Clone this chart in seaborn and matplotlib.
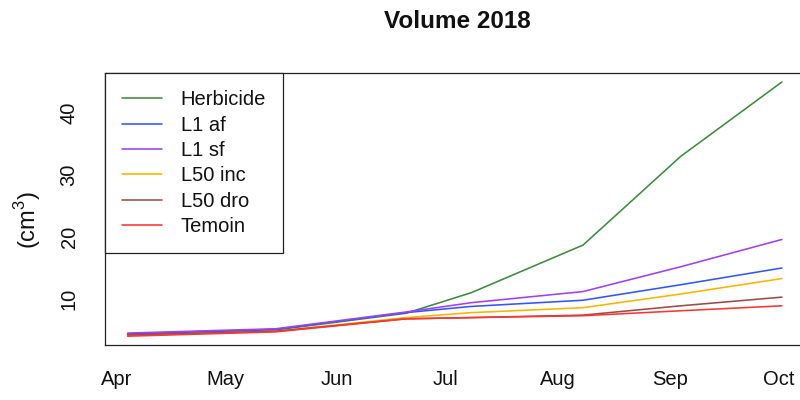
import matplotlib
matplotlib.use("Agg")
import matplotlib.pyplot as plt
import pandas as pd
import seaborn as sns
from datetime import datetime

# Measurement dates and mean volumes (cm3) per treatment
dates = ["2018-04-04", "2018-05-15", "2018-06-20", "2018-07-08",
         "2018-08-08", "2018-09-04", "2018-10-02"]
herbicide = [4.3, 5.0, 7.7, 11.0, 18.7, 33.0, 45.0]
l1_af = [4.4, 5.1, 7.8, 8.8, 9.8, 12.3, 15.0]
l1_sf = [4.5, 5.2, 7.9, 9.4, 11.2, 15.2, 19.6]
l50_inc = [4.1, 4.8, 7.0, 7.8, 8.6, 10.8, 13.3]
l50_dro = [4.2, 4.8, 6.8, 7.0, 7.4, 8.9, 10.3]
temoin = [4.0, 4.7, 6.8, 7.0, 7.3, 8.1, 8.9]

treatments = ["Herbicide", "L1 af", "L1 sf", "L50 inc", "L50 dro", "Temoin"]
colors = ["#3f8a3f", "#3355ff", "#a040f0", "#f7b500", "#9c4a48", "#ff3535"]
month_ticks = ["2018-04-01", "2018-05-01", "2018-06-01", "2018-07-01",
               "2018-08-01", "2018-09-01", "2018-10-01"]
month_labels = ["Apr", "May", "Jun", "Jul", "Aug", "Sep", "Oct"]
y_ticks = [10, 20, 30, 40]

series = [herbicide, l1_af, l1_sf, l50_inc, l50_dro, temoin]
frames = []
for name, vals in zip(treatments, series):
    frames.append(pd.DataFrame({"date": pd.to_datetime(dates),
                                "volume": vals, "treatment": name}))
df = pd.concat(frames, ignore_index=True)

sns.set_style("white")
plt.rcParams["font.family"] = ["Liberation Sans", "DejaVu Sans"]
plt.rcParams["mathtext.fontset"] = "custom"
plt.rcParams["mathtext.rm"] = "Liberation Sans"
plt.rcParams["text.color"] = "black"

fig = plt.figure(figsize=(8, 4), dpi=100)
ax = fig.add_axes([105 / 800, 55 / 400, 704 / 800, 272 / 400])

sns.lineplot(data=df, x="date", y="volume", hue="treatment",
             hue_order=treatments, palette=colors, linewidth=1.15,
             ax=ax, legend=False)

ax.set_xlim(datetime(2018, 3, 28, 18), datetime(2018, 10, 9, 12))
ax.set_ylim(2.58, 46.45)

ax.set_xticks(pd.to_datetime(month_ticks))
ax.set_xticklabels(month_labels)
ax.set_yticks(y_ticks)
ax.set_yticklabels([str(v) for v in y_ticks], rotation=90, va="center")
ax.tick_params(axis="both", direction="out", length=10, width=0.8,
               color="#222222", labelsize=14.5, labelcolor="#111111")
ax.tick_params(axis="x", pad=8)
ax.tick_params(axis="y", pad=9)

for sp in ax.spines.values():
    sp.set_visible(True)
    sp.set_color("#222222")
    sp.set_linewidth(0.9)

ax.set_xlabel("")
ax.set_ylabel("(cm$^{3}$)", fontsize=17, color="#111111")
ax.yaxis.set_label_coords(-(105 - 43) / 704, (345 - 220) / 272)
fig.suptitle("Volume 2018", fontsize=17.5, fontweight="bold", color="#111111",
             x=(105 + 809) / 2 / 800, y=1 - 10 / 400, va="top")

handles = [plt.Line2D([], [], color=c, lw=1.15) for c in colors]
leg = ax.legend(handles, treatments, loc="upper left",
                bbox_to_anchor=(0, 1), borderaxespad=0, fontsize=14.5,
                frameon=True, fancybox=False, handlelength=2.0,
                handletextpad=0.9, labelspacing=0.32, borderpad=0.85)
for t in leg.get_texts():
    t.set_color("#111111")
leg.get_frame().set_edgecolor("#222222")
leg.get_frame().set_linewidth(0.9)
leg.get_frame().set_alpha(1)

fig.savefig("out.png", dpi=100)
